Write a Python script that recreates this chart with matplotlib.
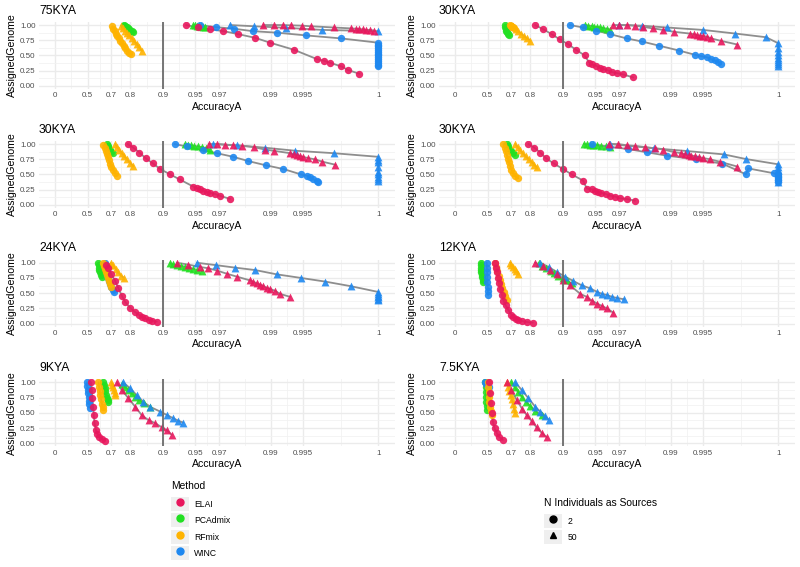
import numpy as np
import matplotlib.pyplot as plt
from matplotlib.lines import Line2D
from matplotlib.patches import Patch
from matplotlib.legend_handler import HandlerTuple

plt.rcParams['font.family'] = ['Liberation Sans', 'DejaVu Sans']

methods = ["ELAI", "PCAdmix", "RFmix", "WINC"]
method_colors = ["#E8175D", "#22E022", "#FFB300", "#1E88F0"]
n_sources = ["2", "50"]
panel_titles = ["75KYA", "30KYA", "30KYA", "30KYA", "24KYA", "12KYA", "9KYA", "7.5KYA"]

acc_ticks = [0, 0.5, 0.7, 0.8, 0.9, 0.95, 0.97, 0.99, 0.995, 1]
acc_tick_labels = ["0", "0.5", "0.7", "0.8", "0.9", "0.95", "0.97", "0.99", "0.995", "1"]
gen_ticks = [0, 0.25, 0.5, 0.75, 1]
gen_tick_labels = ["0.00", "0.25", "0.50", "0.75", "1.00"]

# (AccuracyA, AssignedGenome) pairs per panel / method / N sources
p75_elai_2 = [(0.939, 1.0), (0.953, 0.96), (0.9635, 0.93), (0.9726, 0.90), (0.9801, 0.85), (0.9861, 0.79), (0.9899, 0.71),
              (0.9939, 0.595), (0.9963, 0.44), (0.9968, 0.415), (0.9972, 0.38), (0.9978, 0.32), (0.9981, 0.26), (0.9985, 0.20)]
p75_elai_50 = [(0.9883, 1.0), (0.9906, 1.0), (0.9923, 1.0), (0.9936, 0.995), (0.9949, 0.99), (0.9958, 0.98), (0.9974, 0.96),
               (0.9982, 0.945), (0.9984, 0.94), (0.9985, 0.935), (0.9986, 0.93), (0.9987, 0.92), (0.9988, 0.92), (0.9989, 0.91)]
p75_pcadmix_2 = [(0.768, 1.0), (0.772, 0.99), (0.776, 0.98), (0.78, 0.97), (0.785, 0.96), (0.79, 0.945), (0.795, 0.93),
                 (0.80, 0.91), (0.805, 0.90), (0.81, 0.89)]
p75_pcadmix_50 = [(0.948, 1.0), (0.950, 0.995), (0.952, 0.99), (0.954, 0.985), (0.956, 0.98), (0.958, 0.975), (0.9595, 0.97)]
p75_rfmix_2 = [(0.705, 0.98), (0.712, 0.94), (0.72, 0.90), (0.728, 0.86), (0.736, 0.82), (0.744, 0.78), (0.752, 0.74),
               (0.76, 0.70), (0.768, 0.66), (0.776, 0.62), (0.785, 0.58), (0.795, 0.54), (0.803, 0.52)]
p75_rfmix_50 = [(0.755, 0.99), (0.765, 0.95), (0.775, 0.91), (0.785, 0.87), (0.795, 0.83), (0.805, 0.79), (0.815, 0.74),
                (0.825, 0.69), (0.833, 0.64), (0.843, 0.58)]
p75_winc_2 = [(0.955, 1.0), (0.968, 0.965), (0.978, 0.94), (0.9853, 0.90), (0.9912, 0.875), (0.9953, 0.83), (0.9978, 0.78),
              (1.0, 0.71), (1.0, 0.68), (1.0, 0.65), (1.0, 0.62), (1.0, 0.59), (1.0, 0.56), (1.0, 0.53), (1.0, 0.50),
              (1.0, 0.47), (1.0, 0.44), (1.0, 0.41), (1.0, 0.38), (1.0, 0.35), (1.0, 0.32)]
p75_winc_50 = [(0.9762, 1.0), (0.9858, 0.98), (0.9928, 0.955), (0.9967, 0.92), (1.0, 0.90)]

p30a_elai_2 = [(0.819, 1.0), (0.848, 0.93), (0.873, 0.85), (0.893, 0.765), (0.911, 0.683), (0.925, 0.59), (0.937, 0.503),
               (0.9432, 0.38), (0.9466, 0.355), (0.951, 0.33), (0.9544, 0.30), (0.958, 0.28), (0.9615, 0.257), (0.9651, 0.23),
               (0.9688, 0.21), (0.9722, 0.19), (0.9778, 0.14)]
p30a_elai_50 = [(0.9654, 1.0), (0.9697, 1.0), (0.9745, 1.0), (0.9786, 0.99), (0.982, 0.97), (0.9854, 0.945), (0.9883, 0.92),
                (0.9906, 0.89), (0.9934, 0.86), (0.9939, 0.85), (0.9943, 0.835), (0.9947, 0.825), (0.995, 0.82),
                (0.9954, 0.81), (0.9958, 0.78), (0.9966, 0.74), (0.9976, 0.68)]
p30a_pcadmix_2 = [(0.655, 1.0), (0.658, 0.97), (0.661, 0.94), (0.665, 0.91), (0.670, 0.88), (0.676, 0.85), (0.683, 0.83)]
p30a_pcadmix_50 = [(0.938, 1.0), (0.942, 0.99), (0.946, 0.985), (0.949, 0.975), (0.952, 0.97), (0.955, 0.96), (0.958, 0.95),
                   (0.961, 0.94), (0.9636, 0.925)]
p30a_rfmix_2 = [(0.69, 1.0), (0.695, 0.99), (0.70, 0.98), (0.705, 0.97), (0.71, 0.96), (0.715, 0.95)]
p30a_rfmix_50 = [(0.71, 0.98), (0.725, 0.94), (0.74, 0.90), (0.755, 0.86), (0.77, 0.82), (0.785, 0.78), (0.80, 0.74)]
p30a_winc_2 = [(0.914, 1.0), (0.935, 0.96), (0.951, 0.91), (0.9636, 0.85), (0.9745, 0.78), (0.9815, 0.73), (0.9873, 0.66),
               (0.9917, 0.58), (0.9941, 0.51), (0.9948, 0.49), (0.9954, 0.47), (0.9958, 0.44), (0.9961, 0.42),
               (0.9964, 0.40), (0.9966, 0.36)]
p30a_winc_50 = [(0.9697, 1.0), (0.9815, 0.99), (0.9891, 0.96), (0.995, 0.92), (0.9975, 0.86), (0.9987, 0.80), (1.0, 0.70),
                (1.0, 0.62), (1.0, 0.55), (1.0, 0.50), (1.0, 0.46), (1.0, 0.42), (1.0, 0.39), (1.0, 0.36), (1.0, 0.33)]

p30b_elai_2 = [(0.788, 1.0), (0.812, 0.94), (0.835, 0.86), (0.856, 0.765), (0.876, 0.683), (0.894, 0.59), (0.914, 0.503),
               (0.930, 0.42), (0.948, 0.30), (0.952, 0.273), (0.955, 0.257), (0.958, 0.235), (0.961, 0.219),
               (0.9636, 0.20), (0.9673, 0.18), (0.9706, 0.148), (0.9762, 0.10)]
p30b_elai_50 = [(0.9625, 1.0), (0.9688, 1.0), (0.9735, 0.99), (0.9778, 0.98), (0.9815, 0.97), (0.9856, 0.95), (0.9887, 0.91),
                (0.9906, 0.89), (0.9934, 0.85), (0.9939, 0.83), (0.9943, 0.82), (0.9947, 0.80), (0.995, 0.79),
                (0.9955, 0.77), (0.9961, 0.75), (0.9967, 0.71), (0.9975, 0.66)]
p30b_pcadmix_2 = [(0.67, 1.0), (0.675, 0.97), (0.68, 0.95), (0.686, 0.92), (0.693, 0.90), (0.70, 0.87), (0.71, 0.85)]
p30b_pcadmix_50 = [(0.937, 1.0), (0.941, 0.99), (0.945, 0.98), (0.949, 0.97), (0.953, 0.96), (0.957, 0.95), (0.9605, 0.93),
                   (0.9636, 0.91)]
p30b_rfmix_2 = [(0.644, 0.98), (0.652, 0.93), (0.66, 0.88), (0.668, 0.83), (0.676, 0.78), (0.684, 0.73), (0.692, 0.68),
                (0.70, 0.63), (0.71, 0.58), (0.72, 0.53), (0.732, 0.48)]
p30b_rfmix_50 = [(0.723, 1.0), (0.735, 0.95), (0.747, 0.90), (0.76, 0.85), (0.772, 0.80), (0.785, 0.75), (0.798, 0.69),
                 (0.812, 0.64)]
p30b_winc_2 = [(0.922, 1.0), (0.940, 0.96), (0.9575, 0.90), (0.9684, 0.85), (0.9778, 0.79), (0.9839, 0.72), (0.989, 0.65),
               (0.9924, 0.59), (0.9948, 0.50), (0.9954, 0.48), (0.9957, 0.455), (0.996, 0.42), (0.9963, 0.39),
               (0.9964, 0.37)]
p30b_winc_50 = [(0.966, 1.0), (0.9796, 0.98), (0.9887, 0.94), (0.9941, 0.89), (0.9974, 0.85), (1.0, 0.79), (1.0, 0.74),
                (1.0, 0.70), (1.0, 0.62), (1.0, 0.54), (1.0, 0.50), (1.0, 0.46), (1.0, 0.43), (1.0, 0.40)]

p30c_elai_2 = [(0.791, 1.0), (0.816, 0.94), (0.838, 0.86), (0.857, 0.765), (0.878, 0.683), (0.901, 0.585), (0.917, 0.503),
               (0.935, 0.40), (0.94, 0.27), (0.946, 0.257), (0.950, 0.235), (0.953, 0.219), (0.956, 0.20), (0.960, 0.18),
               (0.9636, 0.153), (0.9673, 0.137), (0.9706, 0.109), (0.9745, 0.098), (0.9786, 0.07)]
p30c_elai_50 = [(0.9625, 1.0), (0.9693, 1.0), (0.9745, 0.98), (0.9786, 0.97), (0.9828, 0.95), (0.9861, 0.93), (0.9883, 0.91),
                (0.9906, 0.87), (0.992, 0.85), (0.9927, 0.83), (0.9932, 0.82), (0.9936, 0.81), (0.9941, 0.80),
                (0.9945, 0.79), (0.995, 0.77), (0.9957, 0.75), (0.9965, 0.71), (0.9976, 0.63)]
p30c_pcadmix_2 = [(0.67, 1.0), (0.675, 0.97), (0.68, 0.94), (0.688, 0.91), (0.697, 0.88), (0.708, 0.85), (0.72, 0.82)]
p30c_pcadmix_50 = [(0.936, 1.0), (0.94, 0.995), (0.944, 0.99), (0.948, 0.985), (0.952, 0.98), (0.956, 0.97), (0.96, 0.965),
                   (0.9636, 0.955)]
p30c_rfmix_2 = [(0.644, 1.0), (0.652, 0.94), (0.66, 0.88), (0.668, 0.82), (0.676, 0.76), (0.684, 0.70), (0.692, 0.64),
                (0.70, 0.58), (0.71, 0.52), (0.72, 0.48), (0.74, 0.44)]
p30c_rfmix_50 = [(0.723, 1.0), (0.737, 0.95), (0.75, 0.90), (0.764, 0.85), (0.778, 0.80), (0.792, 0.75), (0.806, 0.70),
                 (0.816, 0.66), (0.825, 0.62)]
p30c_winc_2 = [(0.946, 1.0), (0.963, 0.955), (0.9753, 0.918), (0.9834, 0.864), (0.9893, 0.808), (0.9942, 0.749),
               (0.9967, 0.677), (0.998, 0.503), (0.9981, 0.60), (0.9989, 0.52), (1.0, 0.50), (1.0, 0.47), (1.0, 0.44),
               (1.0, 0.41), (1.0, 0.38)]
p30c_winc_50 = [(0.9636, 1.0), (0.9858, 0.93), (0.993, 0.885), (0.9968, 0.83), (0.998, 0.754), (1.0, 0.667), (1.0, 0.62),
                (1.0, 0.57), (1.0, 0.52), (1.0, 0.48), (1.0, 0.44), (1.0, 0.37)]

p24_elai_2 = [(0.665, 0.97), (0.68, 0.91), (0.70, 0.81), (0.723, 0.70), (0.741, 0.58), (0.76, 0.456), (0.776, 0.357),
              (0.799, 0.258), (0.819, 0.19), (0.832, 0.148), (0.843, 0.115), (0.854, 0.088), (0.864, 0.066),
              (0.873, 0.05), (0.886, 0.033)]
p24_elai_50 = [(0.926, 1.0), (0.9418, 0.97), (0.955, 0.93), (0.962, 0.91), (0.9688, 0.87), (0.9745, 0.82), (0.9796, 0.77),
               (0.9845, 0.71), (0.9855, 0.69), (0.9866, 0.66), (0.9875, 0.64), (0.9883, 0.62), (0.9891, 0.59),
               (0.9899, 0.57), (0.9909, 0.54), (0.9918, 0.49), (0.9934, 0.44)]
p24_pcadmix_2 = [(0.604, 1.0), (0.606, 0.96), (0.609, 0.92), (0.612, 0.88), (0.616, 0.84), (0.622, 0.80), (0.63, 0.77)]
p24_pcadmix_50 = [(0.914, 0.99), (0.92, 0.975), (0.926, 0.96), (0.932, 0.95), (0.938, 0.935), (0.943, 0.92), (0.948, 0.90),
                  (0.952, 0.88), (0.9566, 0.86)]
p24_rfmix_2 = [(0.644, 1.0), (0.65, 0.95), (0.656, 0.90), (0.662, 0.85), (0.668, 0.80), (0.676, 0.75), (0.684, 0.70),
               (0.692, 0.65), (0.70, 0.60)]
p24_rfmix_50 = [(0.69, 0.97), (0.70, 1.0), (0.71, 0.96), (0.725, 0.90), (0.74, 0.84), (0.755, 0.79), (0.77, 0.75)]
p24_winc_2 = [(0.656, 1.0), (0.66, 0.95), (0.664, 0.90), (0.668, 0.85), (0.673, 0.80), (0.679, 0.75), (0.685, 0.70),
              (0.692, 0.65), (0.70, 0.60), (0.708, 0.55), (0.715, 0.52)]
p24_winc_50 = [(0.9517, 1.0), (0.968, 0.96), (0.9786, 0.92), (0.9861, 0.88), (0.9912, 0.81), (0.9948, 0.75), (0.9969, 0.69),
               (0.9982, 0.615), (1.0, 0.52), (1.0, 0.49), (1.0, 0.46), (1.0, 0.43), (1.0, 0.41), (1.0, 0.39)]

p12_elai_2 = [(0.569, 1.0), (0.58, 0.92), (0.59, 0.84), (0.60, 0.75), (0.61, 0.66), (0.62, 0.57), (0.632, 0.47),
              (0.644, 0.38), (0.66, 0.30), (0.68, 0.22), (0.70, 0.15), (0.712, 0.11), (0.73, 0.08), (0.741, 0.066),
              (0.76, 0.045), (0.784, 0.027), (0.81, 0.016)]
p12_elai_50 = [(0.819, 1.0), (0.848, 0.95), (0.868, 0.88), (0.886, 0.81), (0.901, 0.71), (0.914, 0.63), (0.931, 0.49),
               (0.9399, 0.44), (0.946, 0.38), (0.952, 0.33), (0.9566, 0.29), (0.961, 0.25), (0.966, 0.18)]
p12_pcadmix_2 = [(0.42, 1.0), (0.422, 0.96), (0.424, 0.92), (0.427, 0.88), (0.43, 0.84), (0.434, 0.80), (0.438, 0.76),
                 (0.443, 0.72), (0.448, 0.69)]
p12_pcadmix_50 = [(0.832, 0.99), (0.845, 0.95), (0.858, 0.91), (0.87, 0.87), (0.88, 0.83), (0.89, 0.79), (0.90, 0.75),
                  (0.908, 0.71), (0.917, 0.66)]
p12_rfmix_2 = [(0.575, 0.99), (0.585, 0.93), (0.595, 0.86), (0.605, 0.79), (0.615, 0.72), (0.625, 0.65), (0.635, 0.58),
               (0.645, 0.52), (0.655, 0.45), (0.67, 0.39)]
p12_rfmix_50 = [(0.692, 1.0), (0.70, 0.97), (0.71, 0.93), (0.72, 0.89), (0.73, 0.86), (0.741, 0.82)]
p12_winc_2 = [(0.49, 1.0), (0.492, 0.92), (0.494, 0.84), (0.496, 0.76), (0.498, 0.68), (0.50, 0.60), (0.502, 0.53),
              (0.505, 0.47)]
p12_winc_50 = [(0.838, 1.0), (0.864, 0.93), (0.886, 0.85), (0.905, 0.77), (0.920, 0.70), (0.933, 0.63), (0.944, 0.58),
               (0.952, 0.52), (0.9566, 0.49), (0.961, 0.47), (0.9651, 0.44), (0.9688, 0.42), (0.973, 0.40)]

p9_elai_2 = [(0.537, 1.0), (0.543, 0.87), (0.549, 0.74), (0.556, 0.60), (0.562, 0.46), (0.569, 0.33), (0.581, 0.22),
             (0.595, 0.15), (0.612, 0.10), (0.631, 0.07), (0.656, 0.045)]
p9_elai_50 = [(0.732, 1.0), (0.76, 0.87), (0.791, 0.74), (0.819, 0.60), (0.843, 0.46), (0.864, 0.38), (0.882, 0.33),
              (0.898, 0.26), (0.909, 0.21), (0.917, 0.14)]
p9_pcadmix_2 = [(0.644, 1.0), (0.648, 0.95), (0.652, 0.90), (0.657, 0.85), (0.663, 0.80), (0.67, 0.75), (0.676, 0.71),
                (0.68, 0.68)]
p9_pcadmix_50 = [(0.76, 0.98), (0.775, 0.93), (0.79, 0.88), (0.805, 0.82), (0.82, 0.76), (0.835, 0.71), (0.85, 0.66),
                 (0.868, 0.60)]
p9_rfmix_2 = [(0.604, 1.0), (0.609, 0.93), (0.614, 0.86), (0.62, 0.79), (0.626, 0.72), (0.632, 0.65), (0.638, 0.59),
              (0.644, 0.55)]
p9_rfmix_50 = [(0.70, 1.0), (0.705, 0.96), (0.71, 0.92), (0.715, 0.87), (0.72, 0.83), (0.723, 0.79)]
p9_winc_2 = [(0.49, 1.0), (0.495, 0.94), (0.50, 0.88), (0.505, 0.82), (0.51, 0.76), (0.515, 0.70), (0.52, 0.64),
             (0.527, 0.58)]
p9_winc_50 = [(0.767, 1.0), (0.799, 0.90), (0.825, 0.79), (0.848, 0.68), (0.868, 0.60), (0.894, 0.52), (0.909, 0.46),
              (0.920, 0.41), (0.928, 0.37), (0.935, 0.34)]

p7_elai_2 = [(0.519, 1.0), (0.527, 0.82), (0.533, 0.66), (0.543, 0.49), (0.553, 0.355), (0.569, 0.246), (0.590, 0.164),
             (0.612, 0.098), (0.639, 0.055)]
p7_elai_50 = [(0.67, 1.0), (0.70, 0.87), (0.732, 0.71), (0.76, 0.57), (0.784, 0.46), (0.806, 0.36), (0.825, 0.26),
              (0.843, 0.17), (0.859, 0.10)]
p7_pcadmix_2 = [(0.475, 1.0), (0.478, 0.92), (0.481, 0.84), (0.484, 0.76), (0.487, 0.68), (0.49, 0.61), (0.494, 0.55)]
p7_pcadmix_50 = [(0.70, 1.0), (0.72, 0.92), (0.74, 0.84), (0.76, 0.76), (0.78, 0.68), (0.80, 0.61), (0.82, 0.53),
                 (0.843, 0.46)]
p7_rfmix_2 = [(0.50, 1.0), (0.505, 0.92), (0.51, 0.84), (0.515, 0.76), (0.52, 0.68), (0.527, 0.60), (0.533, 0.53),
              (0.543, 0.46)]
p7_rfmix_50 = [(0.67, 1.0), (0.678, 0.93), (0.686, 0.86), (0.694, 0.79), (0.702, 0.72), (0.71, 0.64), (0.716, 0.57),
               (0.723, 0.49)]
p7_winc_2 = [(0.475, 1.0), (0.485, 0.98), (0.495, 0.96), (0.505, 0.94), (0.51, 0.93)]
p7_winc_50 = [(0.723, 1.0), (0.76, 0.87), (0.791, 0.74), (0.819, 0.60), (0.838, 0.52), (0.854, 0.45), (0.864, 0.39)]

panels = [
    {"ELAI": (p75_elai_2, p75_elai_50), "PCAdmix": (p75_pcadmix_2, p75_pcadmix_50),
     "RFmix": (p75_rfmix_2, p75_rfmix_50), "WINC": (p75_winc_2, p75_winc_50)},
    {"ELAI": (p30a_elai_2, p30a_elai_50), "PCAdmix": (p30a_pcadmix_2, p30a_pcadmix_50),
     "RFmix": (p30a_rfmix_2, p30a_rfmix_50), "WINC": (p30a_winc_2, p30a_winc_50)},
    {"ELAI": (p30b_elai_2, p30b_elai_50), "PCAdmix": (p30b_pcadmix_2, p30b_pcadmix_50),
     "RFmix": (p30b_rfmix_2, p30b_rfmix_50), "WINC": (p30b_winc_2, p30b_winc_50)},
    {"ELAI": (p30c_elai_2, p30c_elai_50), "PCAdmix": (p30c_pcadmix_2, p30c_pcadmix_50),
     "RFmix": (p30c_rfmix_2, p30c_rfmix_50), "WINC": (p30c_winc_2, p30c_winc_50)},
    {"ELAI": (p24_elai_2, p24_elai_50), "PCAdmix": (p24_pcadmix_2, p24_pcadmix_50),
     "RFmix": (p24_rfmix_2, p24_rfmix_50), "WINC": (p24_winc_2, p24_winc_50)},
    {"ELAI": (p12_elai_2, p12_elai_50), "PCAdmix": (p12_pcadmix_2, p12_pcadmix_50),
     "RFmix": (p12_rfmix_2, p12_rfmix_50), "WINC": (p12_winc_2, p12_winc_50)},
    {"ELAI": (p9_elai_2, p9_elai_50), "PCAdmix": (p9_pcadmix_2, p9_pcadmix_50),
     "RFmix": (p9_rfmix_2, p9_rfmix_50), "WINC": (p9_winc_2, p9_winc_50)},
    {"ELAI": (p7_elai_2, p7_elai_50), "PCAdmix": (p7_pcadmix_2, p7_pcadmix_50),
     "RFmix": (p7_rfmix_2, p7_rfmix_50), "WINC": (p7_winc_2, p7_winc_50)},
]


# accuracy axis: -log(1 - x), with 1 shown at 0.999
def acc_fwd(x):
    return -np.log(np.maximum(1 - np.asarray(x, dtype=float), 1e-9))


def acc_inv(t):
    return 1 - np.exp(-np.asarray(t, dtype=float))


ACC_CAP = 0.999
color_of = dict(zip(methods, method_colors))
marker_of = {"2": "o", "50": "^"}
draw_order = ["PCAdmix", "WINC", "RFmix", "ELAI"]

W, H = 800, 567
fig = plt.figure(figsize=(8, 5.67), dpi=100)

col_left = [39, 439]
row_top = [22, 141, 259.7, 379.3]
ax_w, ax_h = 355.5, 67

t_lo, t_hi = acc_fwd(0), acc_fwd(ACC_CAP)
pad = 0.05 * (t_hi - t_lo)
xlim = (acc_inv(t_lo - pad), acc_inv(t_hi + pad))
major_pos = [min(v, ACC_CAP) for v in acc_ticks]
tvals = acc_fwd(major_pos)
minor_pos = acc_inv((tvals[:-1] + tvals[1:]) / 2)

for i, (title, data) in enumerate(zip(panel_titles, panels)):
    r, c = divmod(i, 2)
    ax = fig.add_axes([col_left[c] / W, 1 - (row_top[r] + ax_h) / H, ax_w / W, ax_h / H])
    ax.set_xscale('function', functions=(acc_fwd, acc_inv))
    ax.set_xlim(*xlim)
    ax.set_ylim(-0.05, 1.05)

    for m in draw_order:
        for series in data[m]:
            pts = sorted(series, key=lambda p: p[0])
            xs = np.minimum([p[0] for p in pts], ACC_CAP)
            ys = [p[1] for p in pts]
            ax.plot(xs, ys, color='#8E8E8E', lw=1.3, zorder=2, solid_capstyle='round')
    for m in draw_order:
        for n, series in zip(n_sources, data[m]):
            xs = np.minimum([p[0] for p in series], ACC_CAP)
            ys = [p[1] for p in series]
            ax.scatter(xs, ys, s=28 if n == "2" else 32, marker=marker_of[n], color=color_of[m],
                       alpha=0.9, linewidths=0, zorder=3)

    ax.axvline(0.9, color='#6B6B6B', lw=1.3, zorder=4)

    ax.set_xticks(major_pos)
    ax.set_xticklabels(acc_tick_labels)
    ax.set_xticks(minor_pos, minor=True)
    ax.set_yticks(gen_ticks)
    ax.set_yticklabels(gen_tick_labels)
    ax.set_yticks([0.125, 0.375, 0.625, 0.875], minor=True)
    ax.grid(which='major', color='#EBEBEB', lw=1.0, zorder=0)
    ax.grid(which='minor', color='#F2F2F2', lw=0.6, zorder=0)
    ax.set_axisbelow(True)
    for s in ax.spines.values():
        s.set_visible(False)
    ax.tick_params(which='both', length=0, labelsize=5.8, labelcolor='#4D4D4D', pad=2.5)
    ax.set_xlabel("AccuracyA", fontsize=7.6, labelpad=1.5)
    ax.set_ylabel("AssignedGenome", fontsize=7.6, labelpad=2)
    ax.set_title(title, loc='left', fontsize=8.8, pad=6)

# legends: titles as text, keys as legend entries
key_bg = '#EFEFEF'
leg_kw = dict(loc='upper left', fontsize=6.2, frameon=False, handler_map={tuple: HandlerTuple(ndivide=1, pad=0)},
              handlelength=2.1, handleheight=2.1, handletextpad=0.6, labelspacing=0.3,
              borderpad=0, borderaxespad=0)

fig.text(171 / W, 1 - 486 / H, "Method", fontsize=7.4, ha='left', va='center')
method_handles = [(Patch(facecolor=key_bg, edgecolor='none'),
                   Line2D([], [], marker='o', color=col, linestyle='none', markersize=5))
                  for col in method_colors]
fig.legend(method_handles, methods, bbox_to_anchor=(171 / W, 1 - 497 / H), **leg_kw)

fig.text(544 / W, 1 - 503 / H, "N Individuals as Sources", fontsize=7.4, ha='left', va='center')
n_handles = [(Patch(facecolor=key_bg, edgecolor='none'),
              Line2D([], [], marker=marker_of[n], color='black', linestyle='none', markersize=5))
             for n in n_sources]
fig.legend(n_handles, n_sources, bbox_to_anchor=(544 / W, 1 - 514 / H), **leg_kw)

fig.savefig("out.png", dpi=100, facecolor='white')
